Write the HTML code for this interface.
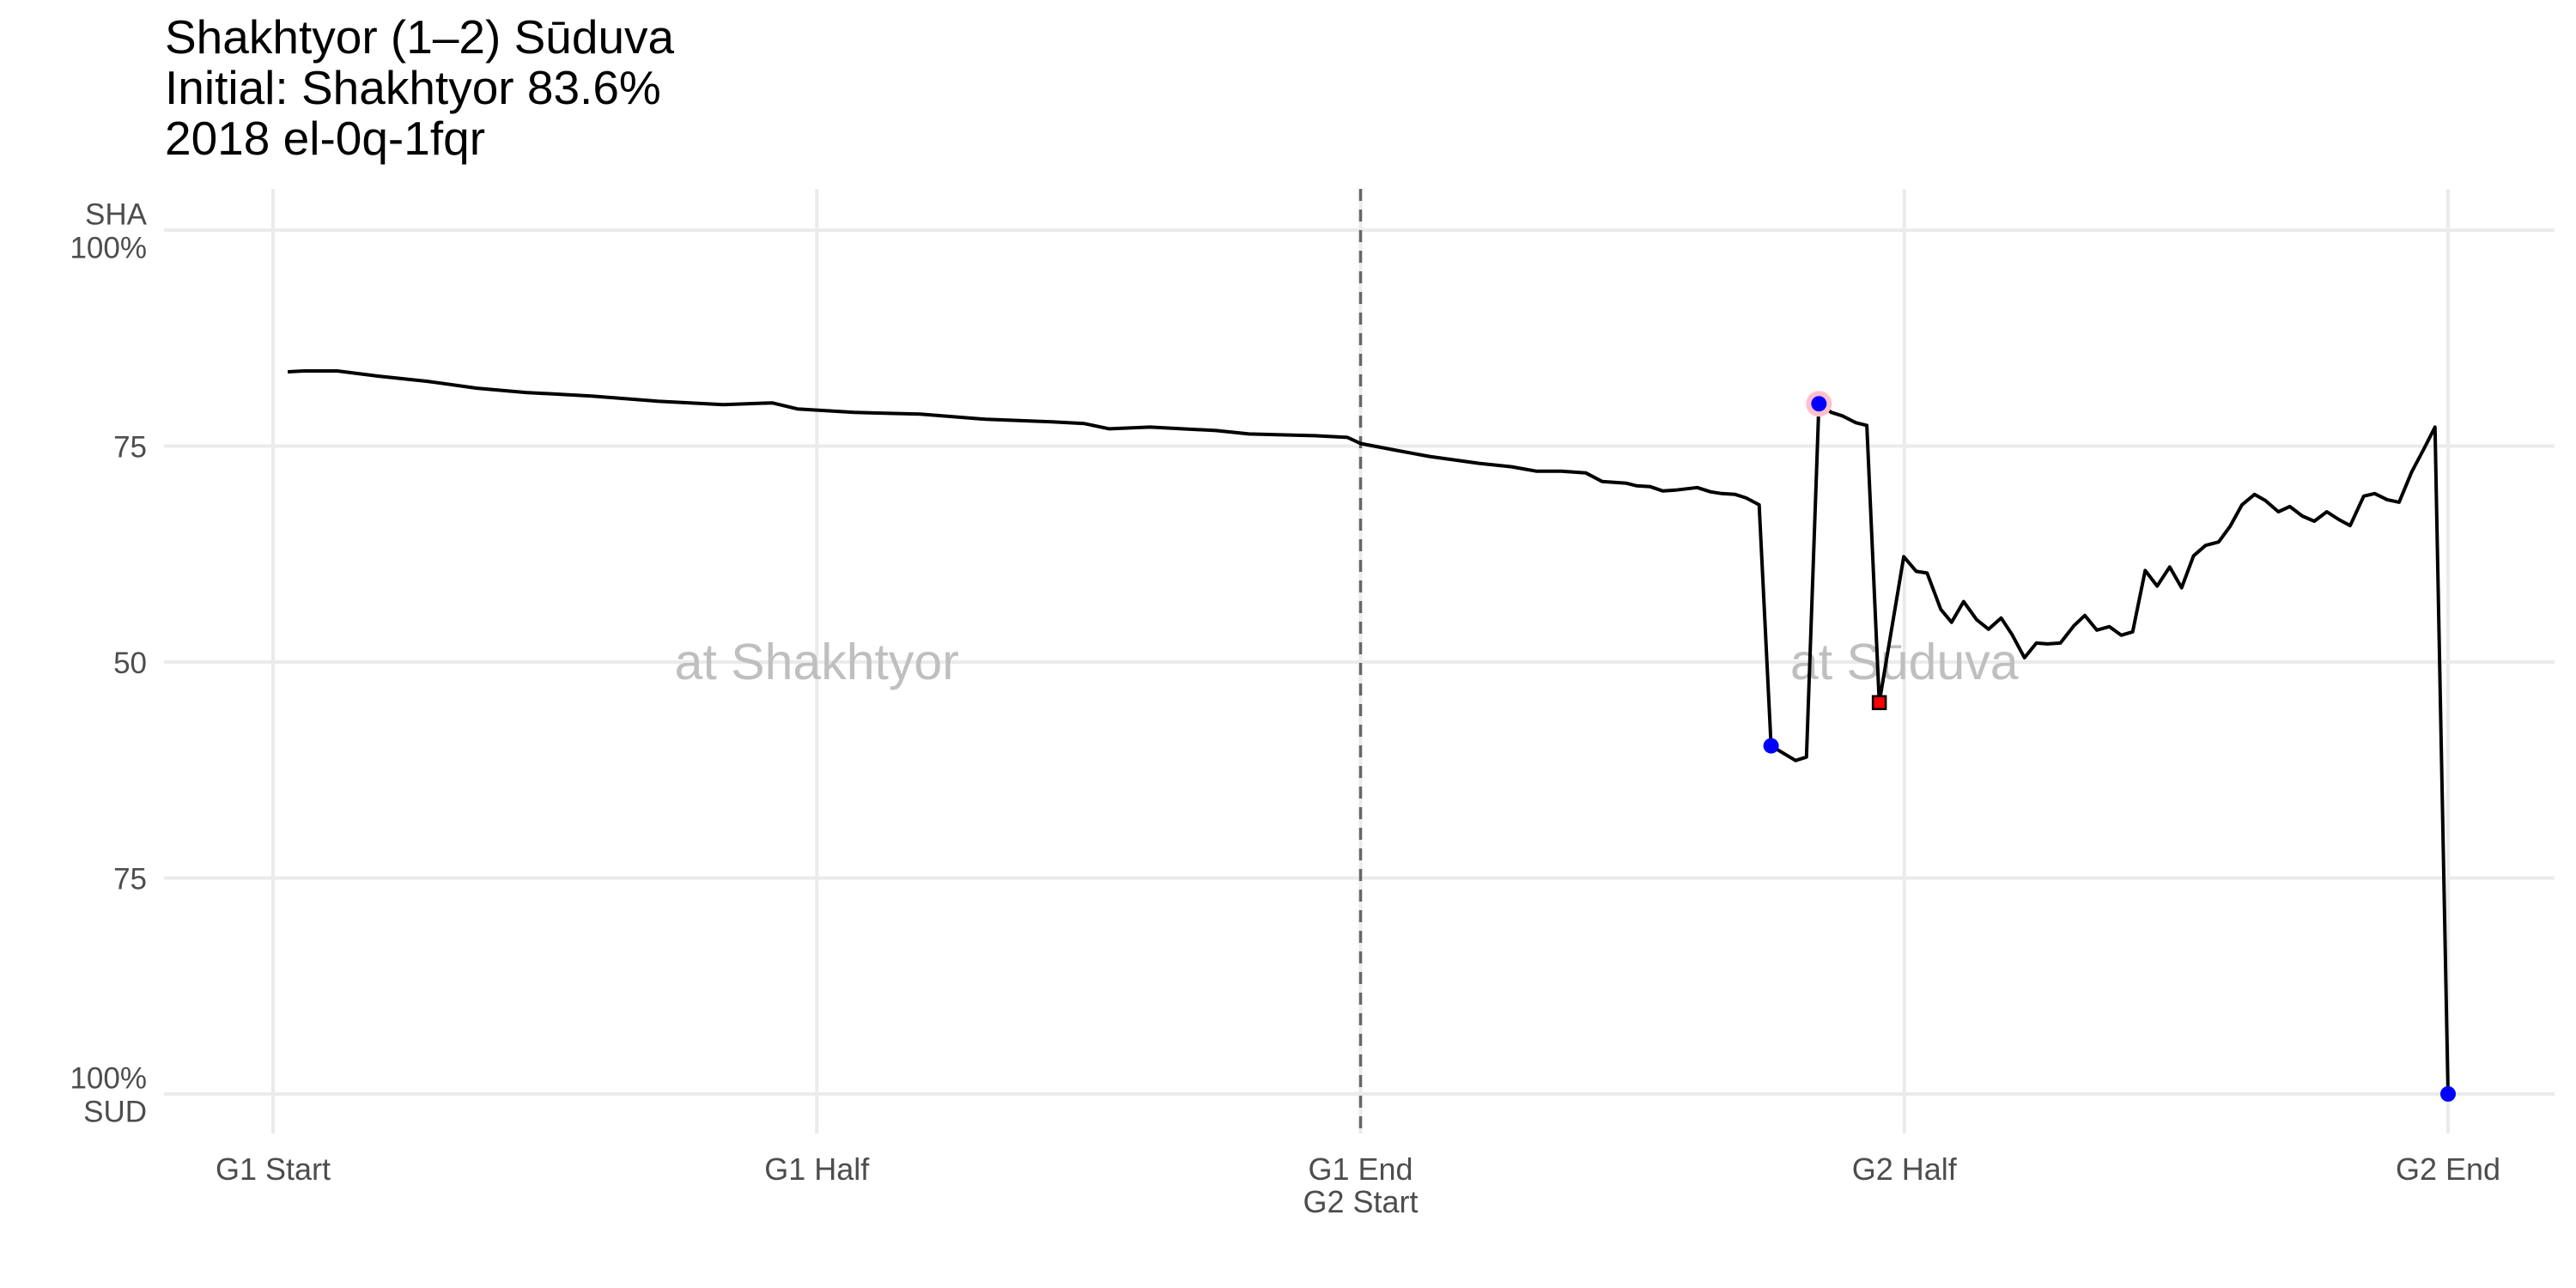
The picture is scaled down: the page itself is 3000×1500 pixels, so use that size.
<!DOCTYPE html>
<html><head><meta charset="utf-8"><style>
html,body{margin:0;padding:0;background:#fff;}
svg{display:block;font-family:"Liberation Sans",sans-serif;}
</style></head><body>
<svg id="chart" width="3000" height="1500" viewBox="0 0 3000 1500" xmlns="http://www.w3.org/2000/svg">
<rect width="3000" height="1500" fill="#fff"/>
<g font-size="55" fill="#000">
<text x="192" y="62">Shakhtyor (1–2) Sūduva</text>
<text x="192" y="121">Initial: Shakhtyor 83.6%</text>
<text x="192" y="180">2018 el-0q-1fqr</text>
</g>
<g id="grid"></g>
<g id="labels"></g>
<g id="axes"></g>
<g id="series"></g>
</svg>
<script>
// x in game-halves (0 = G1 start, 4 = G2 end); y = Shakhtyor win probability (%)
const timeValues = [0.027,0.057,0.118,0.193,0.284,0.375,0.465,0.586,0.707,0.828,0.918,0.964,1.069,1.190,1.311,1.432,1.492,1.538,1.613,1.734,1.795,1.915,1.976,2.0,2.066,2.127,2.218,2.278,2.323,2.369,2.414,2.444,2.489,
2.508,2.533,2.556,2.579,2.619,2.644,2.664,2.689,2.709,2.733,2.755,2.800,2.820,2.843,2.866,2.886,2.911,2.931,2.954,2.999,3.022,3.042,3.067,3.087,3.109,3.133,3.155,3.178,3.198,3.221,3.243,3.263,3.287,3.312,3.332,3.354,3.377,3.399,3.420,3.443,3.465,3.488,3.510,3.532,3.554,3.578,3.599,3.621,3.644,3.664,3.688,3.709,3.732,3.754,3.777,3.799,3.820,3.845,3.865,3.888,3.910,3.933,3.955,3.976,4.0];
const probValues = [83.6,83.7,83.7,83.1,82.5,81.7,81.2,80.8,80.2,79.8,80.0,79.3,78.9,78.7,78.1,77.8,77.6,77.0,77.2,76.8,76.4,76.2,76.0,75.3,74.5,73.8,73.0,72.6,72.1,72.1,71.9,70.9,70.7,
70.4,70.3,69.8,69.9,70.2,69.7,69.5,69.4,69.0,68.2,40.3,38.6,39.0,79.9,78.9,78.5,77.7,77.4,45.3,62.2,60.5,60.3,56.1,54.6,57.0,54.9,53.8,55.1,53.2,50.5,52.2,52.1,52.2,54.2,55.4,53.7,54.1,53.1,53.5,60.6,58.8,61.0,58.6,62.3,63.5,63.9,65.7,68.2,69.4,68.7,67.4,68.0,66.9,66.3,67.4,66.5,65.8,69.2,69.5,68.8,68.5,72.0,74.6,77.2,0];
const goalDots = [[2.755,40.3],[2.843,79.9],[4.0,0]];
const highlightDot = [2.843,79.9];
const redCard = [2.954,45.3];
const yTicks = [100,75,50,25,0];
const yTickLabels = [["SHA","100%"],["75"],["50"],["75"],["100%","SUD"]];
const xTicks = [0,1,2,3,4];
const xTickLabels = [["G1 Start"],["G1 Half"],["G1 End","G2 Start"],["G2 Half"],["G2 End"]];

const NS="http://www.w3.org/2000/svg";
const X = u => 318 + u*633.25;
const Y = p => 268 + (100-p)*10.06;
function mk(tag, attrs, parent){const e=document.createElementNS(NS,tag);for(const k in attrs)e.setAttribute(k,attrs[k]);parent.appendChild(e);return e;}
const grid=document.getElementById('grid'), axes=document.getElementById('axes'), series=document.getElementById('series'), labels=document.getElementById('labels');

yTicks.forEach((t,i)=>{
  const l=mk('line',{x1:191,x2:2975,y1:Y(t),y2:Y(t),stroke:'#ebebeb','stroke-width':4},grid);
  
  
  const lines=yTickLabels[i];
  lines.forEach((s,j)=>{
    const off=(j-(lines.length-1)/2)*39;
    const tx=mk('text',{x:171,y:Y(t)+off+13,'text-anchor':'end','font-size':35,fill:'#4d4d4d'},axes);
    tx.textContent=s;
    
    
  });
});
xTicks.forEach((t,i)=>{
  const l=mk('line',{x1:X(t),x2:X(t),y1:220,y2:1320,stroke:'#ebebeb','stroke-width':4},grid);
  
  
  xTickLabels[i].forEach((s,j)=>{
    const tx=mk('text',{x:X(t),y:1374+j*38,'text-anchor':'middle','font-size':36,fill:'#4d4d4d'},axes);
    tx.textContent=s;
    
    
  });
});
const dl=mk('line',{x1:X(2),x2:X(2),y1:220,y2:1320,stroke:'#666','stroke-width':3.5,'stroke-dasharray':'14,10'},grid);



[["at Shakhtyor",1],["at Sūduva",3]].forEach(([s,u])=>{
  const tx=mk('text',{x:X(u),y:Y(50)+20,'text-anchor':'middle','font-size':59,fill:'#bfbfbf'},labels);
  tx.textContent=s;
  
  
});

const pts=timeValues.map((t,i)=>X(t).toFixed(1)+','+Y(probValues[i]).toFixed(1)).join(' ');
const pl=mk('polyline',{points:pts,fill:'none',stroke:'#000','stroke-width':4,'stroke-linejoin':'round'},series);



const h=mk('circle',{cx:X(highlightDot[0]),cy:Y(highlightDot[1]),r:15,fill:'#ffc0cb'},series);


goalDots.forEach(([t,p])=>{
  const c=mk('circle',{cx:X(t),cy:Y(p),r:9,fill:'#0000ff'},series);
  
  
});
const sq=mk('rect',{x:X(redCard[0])-7.5,y:Y(redCard[1])-7.5,width:15,height:15,fill:'#ff0000',stroke:'#000','stroke-width':2.5},series);


</script>
</body></html>
